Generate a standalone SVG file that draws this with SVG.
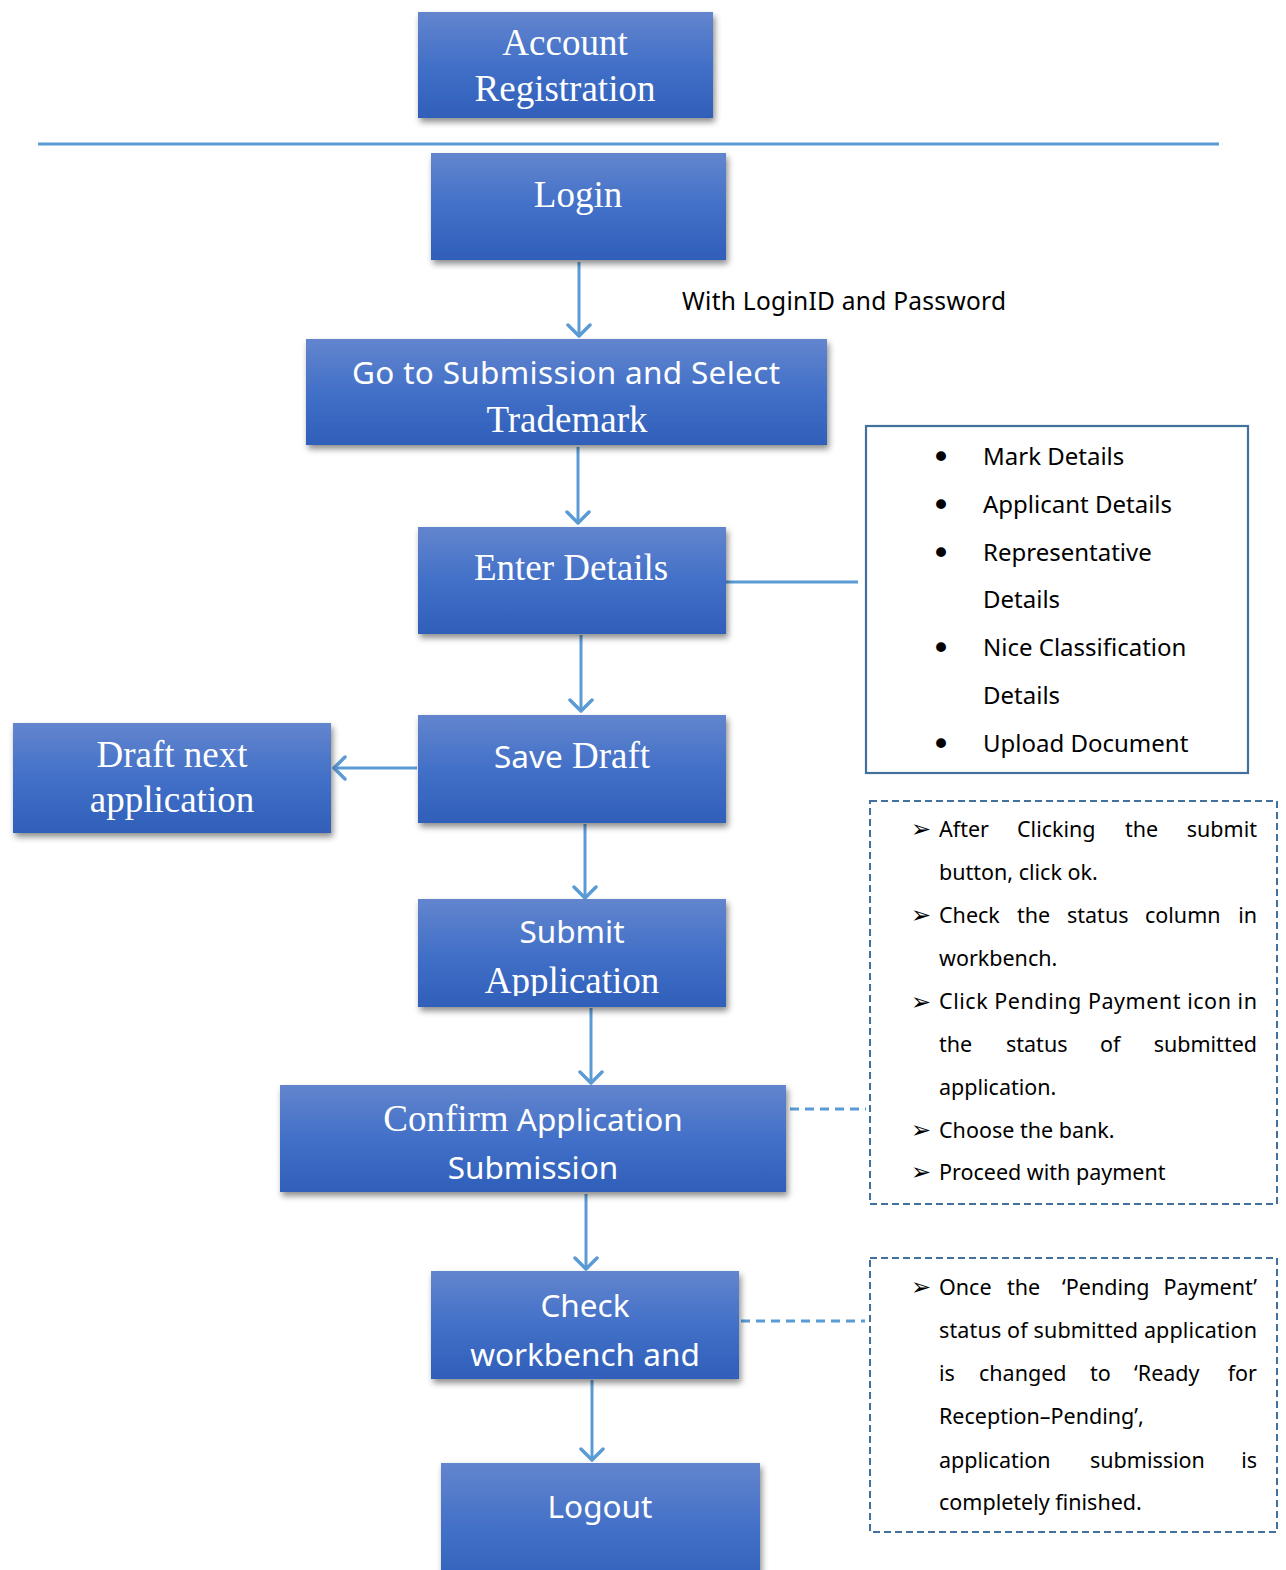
<svg xmlns="http://www.w3.org/2000/svg" width="1286" height="1570" viewBox="0 0 1286 1570">
<style>
.box{fill:url(#bg);filter:url(#sh)}
.serif{font-family:"Liberation Serif","Times New Roman",serif;font-size:37px;fill:#fff}
.sans{font-family:"Noto Sans","Open Sans",sans-serif;font-size:31.5px;fill:#fff}
.t{font-family:"Noto Sans","Open Sans",sans-serif;fill:#000}
.b1{font-size:24px}
.b2{font-size:21.5px}
.mk{font-family:"DejaVu Sans",sans-serif;font-size:24px;fill:#000}
.dot{font-family:"DejaVu Sans",sans-serif;font-size:34px;fill:#000}
.conn{stroke:#5b9bd5;stroke-width:3;fill:none}
.arr{marker-end:url(#ah)}
.dash{stroke:#5b9bd5;stroke-width:3;stroke-dasharray:9 6;fill:none}
.dbox{fill:#fff;stroke:#41719c;stroke-width:2;stroke-dasharray:7 4}
.sbox{fill:#fff;stroke:#41719c;stroke-width:2.2}
</style>
<defs>
<linearGradient id="bg" x1="0" y1="0" x2="0" y2="1">
<stop offset="0" stop-color="#6385cd"/>
<stop offset="0.5" stop-color="#4270c8"/>
<stop offset="1" stop-color="#2f5fb9"/>
</linearGradient>
<filter id="sh" x="-10%" y="-10%" width="125%" height="130%">
<feDropShadow dx="2" dy="4" stdDeviation="3" flood-color="#000" flood-opacity="0.45"/>
</filter>
<marker id="ah" viewBox="0 0 26 26" refX="14" refY="13" markerWidth="26" markerHeight="26" markerUnits="userSpaceOnUse" orient="auto">
<path d="M3,2 L14,13 L3,24" fill="none" stroke="#5b9bd5" stroke-width="3.5" stroke-linecap="round" stroke-linejoin="round"/>
</marker>
<clipPath id="submitClip"><rect x="418" y="899" width="308" height="97"/></clipPath>
</defs>
<rect width="1286" height="1570" fill="#fff"/>

<g id="connectors">
<line x1="38" y1="144" x2="1219" y2="144" stroke="#5b9bd5" stroke-width="3"/>
<line class="conn arr" x1="579" y1="262" x2="579" y2="336"/>
<line class="conn arr" x1="578" y1="447" x2="578" y2="523"/>
<line class="conn arr" x1="581" y1="635" x2="581" y2="711"/>
<line class="conn arr" x1="585" y1="824" x2="585" y2="898"/>
<line class="conn arr" x1="417" y1="768" x2="334" y2="768"/>
<line class="conn arr" x1="591" y1="1008" x2="591" y2="1083"/>
<line class="conn arr" x1="586" y1="1194" x2="586" y2="1269"/>
<line class="conn arr" x1="592" y1="1380" x2="592" y2="1460"/>
<line class="conn" x1="726" y1="582" x2="858" y2="582"/>
<line class="dash" x1="790" y1="1109" x2="866" y2="1109"/>
<line class="dash" x1="741" y1="1321" x2="865" y2="1321"/>
</g>

<g id="account-registration">
<rect class="box" x="418" y="12" width="295" height="106"/>
<text class="serif" x="565" y="55" text-anchor="middle">Account</text>
<text class="serif" x="565" y="101" text-anchor="middle">Registration</text>
</g>

<g id="login">
<rect class="box" x="431" y="153" width="295" height="107"/>
<text class="serif" x="578" y="207" text-anchor="middle">Login</text>
</g>

<g id="login-label">
<text class="t" x="682" y="310" font-size="24.5" textLength="324" lengthAdjust="spacing">With LoginID and Password</text>
</g>

<g id="go-to-submission">
<rect class="box" x="306" y="339" width="521" height="106"/>
<text class="sans" x="566" y="384" text-anchor="middle" textLength="428" lengthAdjust="spacing">Go to Submission and Select</text>
<text class="serif" x="567" y="432" text-anchor="middle">Trademark</text>
</g>

<g id="enter-details">
<rect class="box" x="418" y="527" width="308" height="107"/>
<text class="serif" x="571" y="580" text-anchor="middle">Enter Details</text>
</g>

<g id="details-list">
<rect class="sbox" x="866" y="426" width="382" height="347"/>
<g class="dot">
<text x="931" y="469">•</text>
<text x="931" y="517">•</text>
<text x="931" y="565">•</text>
<text x="931" y="660">•</text>
<text x="931" y="756">•</text>
</g>
<g class="t b1">
<text x="983" y="465">Mark Details</text>
<text x="983" y="513">Applicant Details</text>
<text x="983" y="561">Representative</text>
<text x="983" y="608">Details</text>
<text x="983" y="656">Nice Classification</text>
<text x="983" y="704">Details</text>
<text x="983" y="752">Upload Document</text>
</g>
</g>

<g id="save-draft">
<rect class="box" x="418" y="715" width="308" height="108"/>
<text x="572" y="768" text-anchor="middle"><tspan class="sans">Save</tspan><tspan class="serif"> Draft</tspan></text>
</g>

<g id="draft-next">
<rect class="box" x="13" y="723" width="318" height="110"/>
<text class="serif" x="172" y="767" text-anchor="middle">Draft next</text>
<text class="serif" x="172" y="812" text-anchor="middle">application</text>
</g>

<g id="submit-application">
<rect class="box" x="418" y="899" width="308" height="108"/>
<text class="sans" x="572" y="943" text-anchor="middle">Submit</text>
<text class="serif" x="572" y="993" text-anchor="middle" clip-path="url(#submitClip)">Application</text>
</g>

<g id="confirm-submission">
<rect class="box" x="280" y="1085" width="506" height="107"/>
<text x="533" y="1131" text-anchor="middle"><tspan class="serif">Confirm</tspan><tspan class="sans"> Application</tspan></text>
<text class="sans" x="533" y="1179" text-anchor="middle">Submission</text>
</g>

<g id="payment-steps">
<rect class="dbox" x="870" y="801" width="407" height="403"/>
<g class="mk">
<text x="911" y="837">➢</text>
<text x="911" y="923">➢</text>
<text x="911" y="1010">➢</text>
<text x="911" y="1138">➢</text>
<text x="911" y="1180">➢</text>
</g>
<g class="t b2">
<text y="837"><tspan x="939">After</tspan><tspan x="1017">Clicking</tspan><tspan x="1125">the</tspan><tspan x="1257" text-anchor="end">submit</tspan></text>
<text x="939" y="880">button, click ok.</text>
<text y="923"><tspan x="939">Check</tspan><tspan x="1017">the</tspan><tspan x="1067">status</tspan><tspan x="1145">column</tspan><tspan x="1257" text-anchor="end">in</tspan></text>
<text x="939" y="966">workbench.</text>
<text x="939" y="1009" textLength="318" lengthAdjust="spacing">Click Pending Payment icon in</text>
<text y="1052"><tspan x="939">the</tspan><tspan x="1006">status</tspan><tspan x="1100">of</tspan><tspan x="1257" text-anchor="end">submitted</tspan></text>
<text x="939" y="1095">application.</text>
<text x="939" y="1138">Choose the bank.</text>
<text x="939" y="1180">Proceed with payment</text>
</g>
</g>

<g id="check-workbench">
<rect class="box" x="431" y="1271" width="308" height="108"/>
<text class="sans" x="585" y="1317" text-anchor="middle">Check</text>
<text class="sans" x="585" y="1366" text-anchor="middle">workbench and</text>
</g>

<g id="completion-note">
<rect class="dbox" x="870" y="1258" width="407" height="274"/>
<g class="mk"><text x="911" y="1295">➢</text></g>
<g class="t b2">
<text y="1295"><tspan x="939">Once</tspan><tspan x="1007">the</tspan><tspan x="1062">‘Pending</tspan><tspan x="1257" text-anchor="end">Payment’</tspan></text>
<text x="939" y="1338" textLength="318" lengthAdjust="spacing">status of submitted application</text>
<text y="1381"><tspan x="939">is</tspan><tspan x="979">changed</tspan><tspan x="1090">to</tspan><tspan x="1134">‘Ready</tspan><tspan x="1257" text-anchor="end">for</tspan></text>
<text x="939" y="1424">Reception–Pending’,</text>
<text y="1468"><tspan x="939">application</tspan><tspan x="1090">submission</tspan><tspan x="1257" text-anchor="end">is</tspan></text>
<text x="939" y="1510">completely finished.</text>
</g>
</g>

<g id="logout">
<rect class="box" x="441" y="1463" width="319" height="130"/>
<text class="sans" x="600" y="1518" text-anchor="middle">Logout</text>
</g>
</svg>
